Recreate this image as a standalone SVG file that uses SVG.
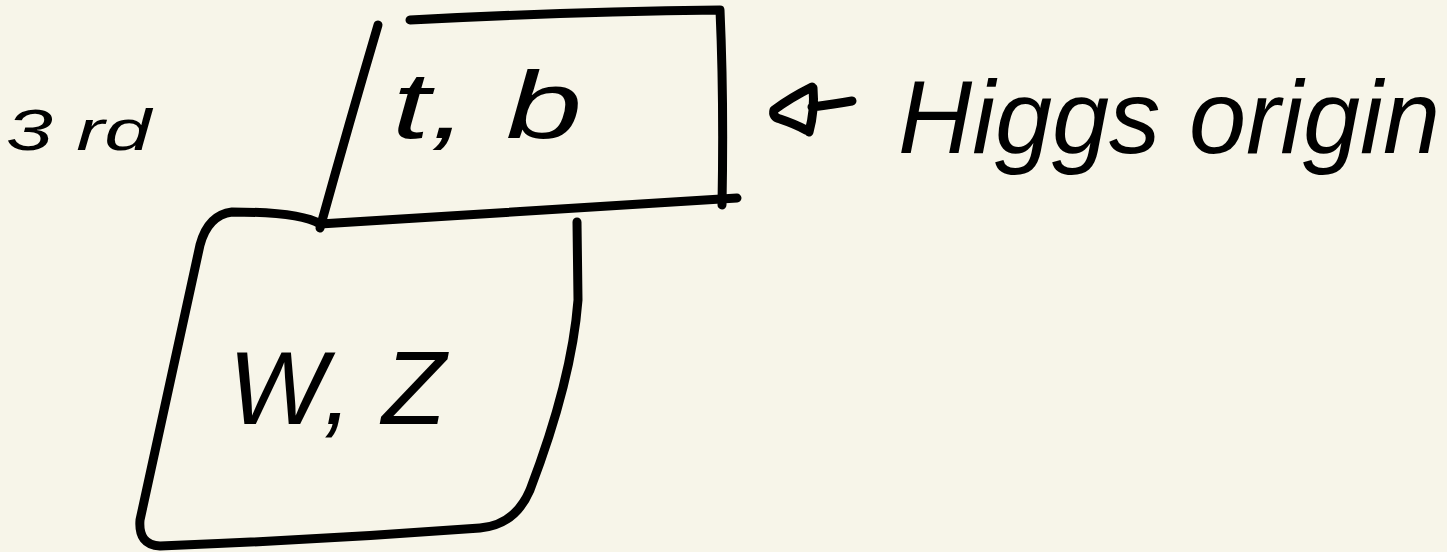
<svg xmlns="http://www.w3.org/2000/svg" width="1447" height="552" viewBox="0 0 1447 552">
<style>
.ink{fill:none;stroke:#000;stroke-width:9;stroke-linecap:round;stroke-linejoin:round}
.hand{font-family:"Liberation Sans",sans-serif;font-style:italic;fill:#000}
</style>
<rect width="1447" height="552" fill="#f7f5e9"/>
<g id="top-box">
<path class="ink" d="M378 25 Q350 120 320 228"/>
<path class="ink" d="M410 20 Q560 12 720 10 Q724 100 722 205"/>
<path class="ink" d="M320 224 Q520 212 737 198"/>
<text class="hand" x="392" y="138" font-size="95" textLength="190" lengthAdjust="spacingAndGlyphs">t, b</text>
</g>
<g id="bottom-box">
<path class="ink" d="M320 224 Q300 212 232 212 Q208 215 200 245 Q170 380 140 520 Q138 545 160 546 Q320 540 480 528 Q515 525 530 490 Q572 380 578 300 L577 222"/>
<text class="hand" x="228" y="424" font-size="104" textLength="218" lengthAdjust="spacingAndGlyphs">W, Z</text>
</g>
<g id="label-3rd">
<text class="hand" x="6" y="150" font-size="58" textLength="145" lengthAdjust="spacingAndGlyphs">3 rd</text>
</g>
<g id="connectors">
<path class="ink" d="M812 87 Q790 98 774 110 Q772 117 780 119 Q795 124 806 130 M813 88 Q815 110 809 132 M812 107 Q835 104 852 101"/>
</g>
<g id="label-higgs">
<text class="hand" x="898" y="153" font-size="104" textLength="542" lengthAdjust="spacingAndGlyphs">Higgs origin</text>
</g>
</svg>
